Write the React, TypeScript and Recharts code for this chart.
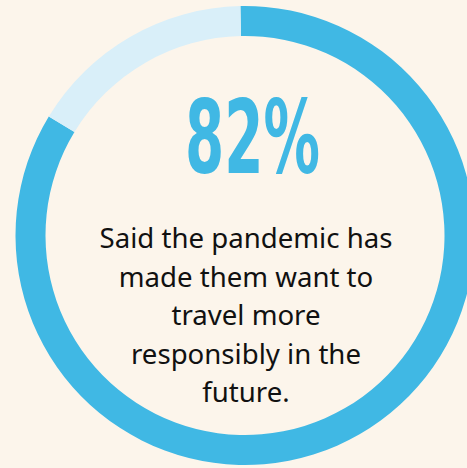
import { PieChart, Pie, Cell } from 'recharts'

const segments = ['Want to travel more responsibly', 'Other']
const shares = [84, 16]
const headline = '82%'
const captionLines = [
  'Said the pandemic has',
  'made them want to',
  'travel more',
  'responsibly in the',
  'future.',
]

const COLORS = ['#40b8e4', '#d9eff9']
const BG = '#fcf5eb'
const CX = 245
const CY = 235.5

const data = segments.map((name, i) => ({ name, value: shares[i] }))

export default function App() {
  return (
    <div style={{ position: 'fixed', left: 0, top: 0, width: 467, height: 468, background: BG, overflow: 'hidden' }}>
      <PieChart width={467} height={468} margin={{ top: 0, right: 0, bottom: 0, left: 0 }}>
        <Pie
          data={data}
          dataKey="value"
          cx={CX}
          cy={CY}
          innerRadius={199.5}
          outerRadius={229.5}
          startAngle={91.15}
          endAngle={91.15 - 360}
          stroke="none"
          isAnimationActive={false}
        >
          {data.map((d, i) => (
            <Cell key={d.name} fill={COLORS[i]} />
          ))}
        </Pie>
      </PieChart>
      {/* centre text sits on top of the ring */}
      <svg width={467} height={468} style={{ position: 'absolute', left: 0, top: 0, pointerEvents: 'none' }}>
        <text
          x={CX - 60}
          y={CY - 63}
          fill="#40b8e4"
          fontFamily="DejaVu Sans Condensed, DejaVu Sans"
          fontWeight="bold"
          fontSize={102}
          textLength={135}
          lengthAdjust="spacingAndGlyphs"
        >
          {headline}
        </text>
        {captionLines.map((line, i) => (
          <text
            key={line}
            x={CX + 1}
            y={CY + 12.5 + i * 38.5}
            textAnchor="middle"
            fill="#111"
            fontFamily="Noto Sans"
            fontSize={27.6}
          >
            {line}
          </text>
        ))}
      </svg>
    </div>
  )
}
